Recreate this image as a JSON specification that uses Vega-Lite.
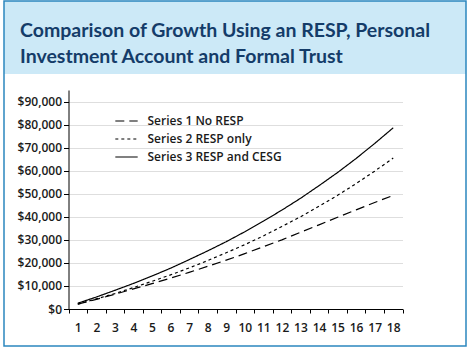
{
  "$schema": "https://vega.github.io/schema/vega-lite/v6.json",
  "background": "white",
  "padding": {"left": 4, "top": 1, "right": 4, "bottom": 6},
  "config": {
    "font": "Open Sans"
  },
  "width": 462,
  "height": 345,
  "view": {
    "stroke": "#2b86bf",
    "strokeWidth": 1.5,
    "fill": {
      "gradient": "linear",
      "x1": 0, "y1": 0, "x2": 0, "y2": 1,
      "stops": [
        {"offset": 0, "color": "#cce9f7"},
        {"offset": 0.2116, "color": "#cce9f7"},
        {"offset": 0.2117, "color": "#ffffff"},
        {"offset": 1, "color": "#ffffff"}
      ]
    }
  },
  "title": {
    "text": ["Comparison of Growth Using an RESP, Personal", "Investment Account and Formal Trust"],
    "anchor": "start",
    "frame": "group",
    "orient": "top",
    "offset": -66,
    "dx": 16,
    "font": "Lato",
    "fontSize": 19.5,
    "fontWeight": "bold",
    "color": "#143c69",
    "lineHeight": 26
  },
  "data": {
    "values": [
      {"year": 1, "series": "Series 1 No RESP", "value": 2100},
      {"year": 2, "series": "Series 1 No RESP", "value": 4200},
      {"year": 3, "series": "Series 1 No RESP", "value": 6400},
      {"year": 4, "series": "Series 1 No RESP", "value": 8700},
      {"year": 5, "series": "Series 1 No RESP", "value": 11000},
      {"year": 6, "series": "Series 1 No RESP", "value": 13400},
      {"year": 7, "series": "Series 1 No RESP", "value": 15900},
      {"year": 8, "series": "Series 1 No RESP", "value": 18500},
      {"year": 9, "series": "Series 1 No RESP", "value": 21200},
      {"year": 10, "series": "Series 1 No RESP", "value": 24000},
      {"year": 11, "series": "Series 1 No RESP", "value": 27000},
      {"year": 12, "series": "Series 1 No RESP", "value": 30000},
      {"year": 13, "series": "Series 1 No RESP", "value": 33300},
      {"year": 14, "series": "Series 1 No RESP", "value": 36500},
      {"year": 15, "series": "Series 1 No RESP", "value": 39800},
      {"year": 16, "series": "Series 1 No RESP", "value": 43000},
      {"year": 17, "series": "Series 1 No RESP", "value": 46200},
      {"year": 18, "series": "Series 1 No RESP", "value": 49300},
      {"year": 1, "series": "Series 2 RESP only", "value": 2100},
      {"year": 2, "series": "Series 2 RESP only", "value": 4400},
      {"year": 3, "series": "Series 2 RESP only", "value": 6700},
      {"year": 4, "series": "Series 2 RESP only", "value": 9300},
      {"year": 5, "series": "Series 2 RESP only", "value": 12000},
      {"year": 6, "series": "Series 2 RESP only", "value": 14800},
      {"year": 7, "series": "Series 2 RESP only", "value": 17800},
      {"year": 8, "series": "Series 2 RESP only", "value": 21000},
      {"year": 9, "series": "Series 2 RESP only", "value": 24400},
      {"year": 10, "series": "Series 2 RESP only", "value": 27900},
      {"year": 11, "series": "Series 2 RESP only", "value": 31700},
      {"year": 12, "series": "Series 2 RESP only", "value": 35800},
      {"year": 13, "series": "Series 2 RESP only", "value": 40000},
      {"year": 14, "series": "Series 2 RESP only", "value": 44600},
      {"year": 15, "series": "Series 2 RESP only", "value": 49300},
      {"year": 16, "series": "Series 2 RESP only", "value": 54400},
      {"year": 17, "series": "Series 2 RESP only", "value": 59800},
      {"year": 18, "series": "Series 2 RESP only", "value": 65500},
      {"year": 1, "series": "Series 3 RESP and CESG", "value": 2500},
      {"year": 2, "series": "Series 3 RESP and CESG", "value": 5200},
      {"year": 3, "series": "Series 3 RESP and CESG", "value": 8100},
      {"year": 4, "series": "Series 3 RESP and CESG", "value": 11100},
      {"year": 5, "series": "Series 3 RESP and CESG", "value": 14300},
      {"year": 6, "series": "Series 3 RESP and CESG", "value": 17700},
      {"year": 7, "series": "Series 3 RESP and CESG", "value": 21400},
      {"year": 8, "series": "Series 3 RESP and CESG", "value": 25200},
      {"year": 9, "series": "Series 3 RESP and CESG", "value": 29200},
      {"year": 10, "series": "Series 3 RESP and CESG", "value": 33500},
      {"year": 11, "series": "Series 3 RESP and CESG", "value": 38100},
      {"year": 12, "series": "Series 3 RESP and CESG", "value": 42900},
      {"year": 13, "series": "Series 3 RESP and CESG", "value": 48000},
      {"year": 14, "series": "Series 3 RESP and CESG", "value": 53500},
      {"year": 15, "series": "Series 3 RESP and CESG", "value": 59200},
      {"year": 16, "series": "Series 3 RESP and CESG", "value": 65300},
      {"year": 17, "series": "Series 3 RESP and CESG", "value": 71800},
      {"year": 18, "series": "Series 3 RESP and CESG", "value": 78600}
    ]
  },
  "mark": {"type": "line", "stroke": "black", "strokeWidth": 1.2},
  "encoding": {
    "x": {
      "field": "year",
      "type": "ordinal",
      "scale": {"type": "band", "paddingInner": 0, "paddingOuter": 0, "range": [64.5, 398.5]},
      "axis": {
        "title": null,
        "offset": -37,
        "tickBand": "extent",
        "labelAngle": 0,
        "labelFont": "Open Sans",
        "labelFontWeight": 600,
        "labelFontSize": 12,
        "labelColor": "#1a1a1a",
        "labelPadding": 9,
        "tickSize": 4,
        "tickColor": "black",
        "domainColor": "black",
        "grid": false
      }
    },
    "y": {
      "field": "value",
      "type": "quantitative",
      "scale": {"domain": [0, 95000], "range": [308, 89], "nice": false},
      "axis": {
        "title": null,
        "offset": -64.5,
        "values": [0, 10000, 20000, 30000, 40000, 50000, 60000, 70000, 80000, 90000],
        "format": "$,.0f",
        "labelFont": "Open Sans",
        "labelFontWeight": 600,
        "labelFontSize": 12,
        "labelColor": "#1a1a1a",
        "labelPadding": 2,
        "tickSize": 5,
        "tickColor": "black",
        "domainColor": "black",
        "grid": true,
        "gridColor": "#dedede",
        "gridWidth": 1
      }
    },
    "strokeDash": {
      "field": "series",
      "type": "nominal",
      "scale": {"range": [[9, 5], [3, 3], [1, 0]]},
      "legend": {
        "title": null,
        "orient": "none",
        "legendX": 110.5,
        "legendY": 108,
        "symbolType": "stroke",
        "symbolSize": 500,
        "symbolStrokeWidth": 1.2,
        "symbolStrokeColor": "black",
        "labelFont": "Open Sans",
        "labelFontWeight": 600,
        "labelFontSize": 12,
        "labelColor": "#1a1a1a",
        "labelOffset": 9,
        "rowPadding": 0
      }
    }
  }
}
